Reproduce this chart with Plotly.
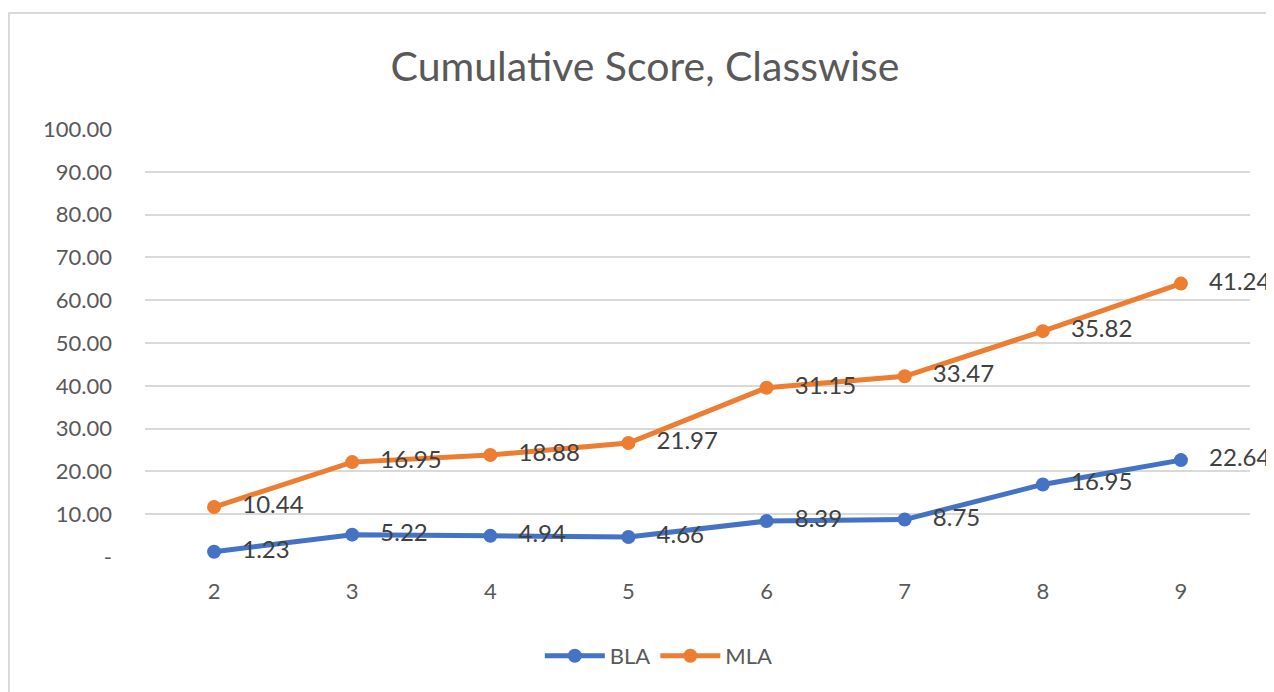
import plotly.graph_objects as go

classes = ["2", "3", "4", "5", "6", "7", "8", "9"]
bla = [1.23, 5.22, 4.94, 4.66, 8.39, 8.75, 16.95, 22.64]
mla = [10.44, 16.95, 18.88, 21.97, 31.15, 33.47, 35.82, 41.24]
y_tickvals = [0, 10, 20, 30, 40, 50, 60, 70, 80, 90, 100]
y_ticktext = ["-", "10.00", "20.00", "30.00", "40.00", "50.00", "60.00",
              "70.00", "80.00", "90.00", "100.00"]

BLUE = "#4472C4"
ORANGE = "#ED7D31"
TXT = "#595959"
FONT = "Lato"

fig = go.Figure()
for name, vals, col in [("BLA", bla, BLUE), ("MLA", mla, ORANGE)]:
    fig.add_trace(go.Scatter(
        x=classes, y=vals, name=name, stackgroup="one", fill="none",
        mode="lines+markers+text",
        line=dict(color=col, width=5),
        marker=dict(color=col, size=14),
        text=["   " + f"{v:.2f}" for v in vals],
        textposition="middle right",
        textfont=dict(family=FONT, size=24, color="#404040"),
        cliponaxis=False,
    ))

PW = 1105
PH = 428
fig.update_layout(
    width=1274, height=692,
    paper_bgcolor="white", plot_bgcolor="white",
    margin=dict(l=137, r=32, t=121, b=143),
    title=dict(text="Cumulative Score, Classwise", x=0.5, xanchor="center",
               y=0.915, yanchor="middle",
               font=dict(family=FONT, size=41, color=TXT)),
    showlegend=True,
    legend=dict(orientation="h", x=0.465, xanchor="center", y=-0.182, yanchor="top",
                font=dict(family=FONT, size=22, color=TXT), itemwidth=60,
                traceorder="normal"),
    xaxis=dict(type="category", range=[-0.5, 7.5], showgrid=False, showline=False,
               ticks="", tickfont=dict(family=FONT, size=22, color=TXT),
               ticklabelstandoff=19, zeroline=False),
    yaxis=dict(range=[0, 100], tickvals=y_tickvals, ticktext=y_ticktext,
               showgrid=True, gridcolor="#D9D9D9", gridwidth=1.5, zeroline=False,
               showline=False, ticks="",
               tickfont=dict(family=FONT, size=22, color=TXT),
               ticklabelstandoff=32),
    shapes=[dict(type="rect", xref="paper", yref="paper",
                 x0=-136 / PW, x1=1.2, y0=-0.6, y1=(549 - 5) / PH,
                 line=dict(color="#D9D9D9", width=2), fillcolor="rgba(0,0,0,0)",
                 layer="below")],
)

fig.write_html("out.html")
